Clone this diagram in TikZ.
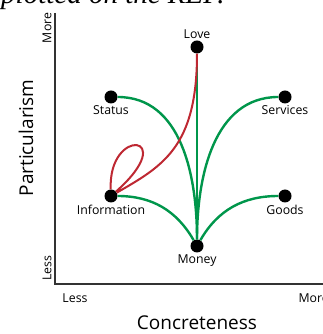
\documentclass[tikz,border=0pt]{standalone}
\usepackage{fontspec}
\setsansfont{Open Sans}
\newfontfamily\capfont{Liberation Serif}
\definecolor{tiegreen}{RGB}{0,150,75}
\definecolor{tiered}{RGB}{190,40,50}
\begin{document}
\begin{tikzpicture}[x=1pt,y=1pt,
  res/.style={circle,fill=black,inner sep=0pt,minimum size=13pt},
  small/.style={font=\sffamily\fontsize{12.3}{14}\selectfont,text=black},
  big/.style={font=\sffamily\fontsize{19}{21}\selectfont,text=black},
  tie/.style={tiegreen,line width=2.4pt},
  rel/.style={tiered,line width=2pt},
  every label/.style={small,label distance=-1.5pt}]
\useasboundingbox (0,0) rectangle (322,334);
% caption line, cut at the top
\node[anchor=base west,inner sep=0pt,font=\capfont\itshape\fontsize{29}{30}\selectfont] (cap) at (1,330) {plotted on the REF.};
% axes
\draw[line width=2.6pt,black!80] (55,321) -- (55,50) -- (330,50);
\node[small,rotate=90] (pmore) at (47,306) {More};
\node[small,rotate=90] (pless) at (47,66) {Less};
\node[big,rotate=90] (ylab) at (26,196) {Particularism};
\node[small] (cless) at (75,36) {Less};
\node[small,anchor=west] (cmore) at (295,36) {More};
\node[big] (xlab) at (197,11) {Concreteness};
% resources
\node[res,label=above:Love] (love) at (197,287) {};
\node[res,label=below:Status] (status) at (111,237) {};
\node[res,label=below:Services] (services) at (285,237) {};
\node[res,label=below:Information] (info) at (111,138) {};
\node[res,label=below:Goods] (goods) at (285,138) {};
\node[res,label=below:Money] (money) at (197,88) {};
% ties
\draw[tie] (money) -- (love);
\draw[tie] (status) to[out=0,in=90] (money);
\draw[tie] (services) to[out=180,in=90] (money);
\draw[tie] (info) to[out=0,in=120] (money);
\draw[tie] (goods) to[out=180,in=60] (money);
\draw[rel] (love) .. controls +(0,-100) and +(52,30) .. (info)
  .. controls +(-3,70) and +(70,62) .. (info);
\end{tikzpicture}
\end{document}
